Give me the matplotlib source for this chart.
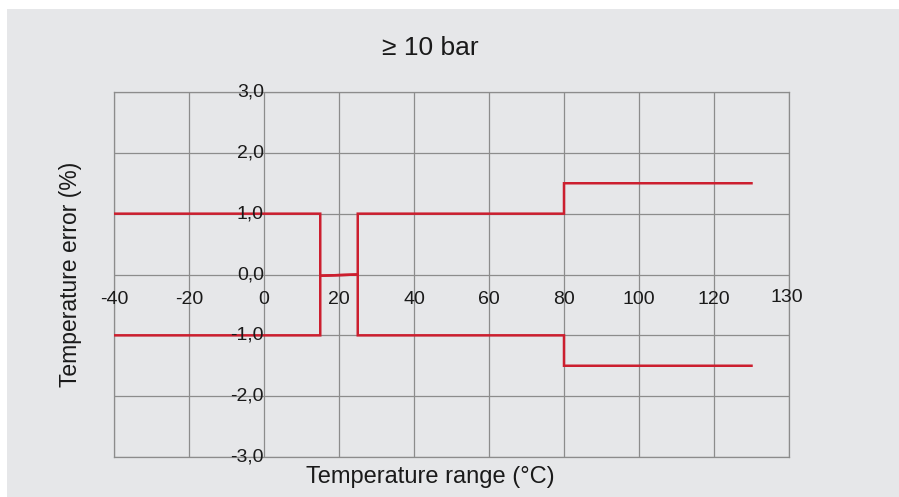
import matplotlib
matplotlib.use("Agg")
import matplotlib.pyplot as plt
from matplotlib.patches import Rectangle
from matplotlib.transforms import offset_copy

plt.rcParams['font.family'] = ['Liberation Sans', 'DejaVu Sans']

# data
upper_x = [-40, 15, 15, 25, 25, 80, 80, 130]
upper_y = [1.0, 1.0, -0.02, 0.0, 1.0, 1.0, 1.5, 1.5]
lower_x = [-40, 15, 15, 25, 25, 80, 80, 130]
lower_y = [-1.0, -1.0, -0.02, 0.0, -1.0, -1.0, -1.5, -1.5]

x_grid = [-40, -20, 0, 20, 40, 60, 80, 100, 120, 140]
x_labels = ['-40', '-20', '0', '20', '40', '60', '80', '100', '120', '130']
y_grid = [-3, -2, -1, 0, 1, 2, 3]
y_labels = ['-3,0', '-2,0', '-1,0', '0,0', '1,0', '2,0', '3,0']

W, H = 899, 497
bg = '#e6e7e9'
grid_col = '#8c8c8c'
red = '#cc1f2f'

fig = plt.figure(figsize=(W / 100, H / 100), dpi=100, facecolor='white')
fig.patches.append(Rectangle((7 / W, 0), 1 - 7 / W, (H - 9) / H,
                             transform=fig.transFigure, facecolor=bg,
                             edgecolor='none', zorder=-10))

ax = fig.add_axes([114 / W, (H - 457) / H, (789 - 114) / W, (457 - 92) / H])
ax.set_facecolor(bg)
ax.set_xlim(-40, 140)
ax.set_ylim(-3, 3)
ax.set_xticks([])
ax.set_yticks([])
for s in ax.spines.values():
    s.set_color(grid_col)
    s.set_linewidth(0.9)

for gx in x_grid:
    ax.axvline(gx, color=grid_col, lw=0.9, zorder=1)
for gy in y_grid:
    ax.axhline(gy, color=grid_col, lw=0.9, zorder=1)

ax.plot(upper_x, upper_y, color=red, lw=1.8, zorder=3, solid_joinstyle='miter')
ax.plot(lower_x, lower_y, color=red, lw=1.8, zorder=3, solid_joinstyle='miter')

# labels sit inside the plot, along the 0 lines
below = offset_copy(ax.transData, fig=fig, x=0, y=-25, units='dots')
for gx, lab in zip(x_grid, x_labels):
    tr = below
    if lab == '130':
        tr = offset_copy(ax.transData, fig=fig, x=-2, y=-23, units='dots')
    ax.text(gx, 0, lab, transform=tr, ha='center', va='center',
            fontsize=14, color='#1a1a1a', zorder=4, clip_on=False)

for gy, lab in zip(y_grid, y_labels):
    ax.text(0, gy, lab, ha='right', va='center', fontsize=14,
            color='#1a1a1a', zorder=4, clip_on=False)

fig.text(430 / W, 1 - 48 / H, '≥ 10 bar', ha='center', va='center',
         fontsize=19, color='#1a1a1a')
fig.text(430 / W, 1 - 477 / H, 'Temperature range (°C)', ha='center',
         va='center', fontsize=17, color='#1a1a1a')
fig.text(71 / W, 1 - 274 / H, 'Temperature error (%)', ha='center',
         va='center', rotation=90, fontsize=16.5, color='#1a1a1a')

fig.savefig('out.png', dpi=100, facecolor=fig.get_facecolor())
